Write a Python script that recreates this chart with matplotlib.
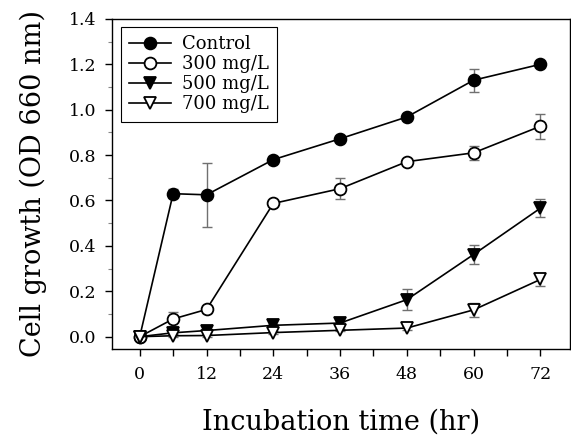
import matplotlib
matplotlib.use("Agg")
import matplotlib.pyplot as plt
from matplotlib.ticker import MultipleLocator

# incubation time (hr)
hours = [0, 6, 12, 24, 36, 48, 60, 72]

control = [0.00, 0.63, 0.625, 0.78, 0.872, 0.968, 1.13, 1.20]
control_err = [0.01, 0.02, 0.14, 0.015, 0.01, 0.01, 0.05, 0.01]

c300 = [0.00, 0.078, 0.12, 0.587, 0.652, 0.771, 0.81, 0.927]
c300_err = [0.01, 0.03, 0.015, 0.01, 0.045, 0.01, 0.03, 0.055]

c500 = [0.00, 0.017, 0.027, 0.05, 0.06, 0.163, 0.362, 0.566]
c500_err = [0.005, 0.005, 0.005, 0.005, 0.005, 0.045, 0.04, 0.04]

c700 = [0.00, 0.004, 0.005, 0.018, 0.028, 0.038, 0.118, 0.252]
c700_err = [0.005, 0.005, 0.005, 0.005, 0.005, 0.01, 0.03, 0.03]

series = [
    ("Control", control, control_err, "o", "black"),
    ("300 mg/L", c300, c300_err, "o", "white"),
    ("500 mg/L", c500, c500_err, "v", "black"),
    ("700 mg/L", c700, c700_err, "v", "white"),
]

plt.rcParams["font.family"] = ["DejaVu Serif"]

fig = plt.figure(figsize=(5.71, 4.40), dpi=100)
ax = fig.add_axes([0.196, 0.207, 0.802, 0.750])

for label, y, err, mk, face in series:
    ax.errorbar(hours, y, yerr=err, fmt="none", ecolor="#707070",
                elinewidth=1.0, capsize=3.5, capthick=1.0, zorder=2)
    ax.plot(hours, y, color="black", lw=1.2, marker=mk, markersize=8.5,
            markerfacecolor=face, markeredgecolor="black",
            markeredgewidth=1.3, label=label, zorder=3)

ax.set_xlim(-5, 77.3)
ax.set_ylim(-0.054, 1.4)
ax.xaxis.set_major_locator(MultipleLocator(12))
ax.xaxis.set_minor_locator(MultipleLocator(6))
ax.yaxis.set_major_locator(MultipleLocator(0.2))
ax.yaxis.set_minor_locator(MultipleLocator(0.1))
ax.yaxis.set_major_formatter(plt.FormatStrFormatter("%.1f"))

ax.tick_params(axis="both", which="major", direction="out", length=5,
               width=1.0, labelsize=12.5)
ax.tick_params(axis="x", which="minor", direction="out", length=5, width=1.0)
ax.tick_params(axis="y", which="minor", direction="out", length=3,
               width=0.8, color="#888888")
ax.tick_params(axis="x", pad=7)
ax.tick_params(axis="y", pad=6)

for sp in ax.spines.values():
    sp.set_linewidth(1.0)

ax.set_xlabel("Incubation time (hr)", fontsize=19.5, labelpad=19)
ax.set_ylabel("Cell growth (OD 660 nm)", fontsize=19.5, labelpad=16)

leg = ax.legend(loc="upper left", bbox_to_anchor=(0.02, 0.976),
                fontsize=13, frameon=True, fancybox=False, framealpha=1,
                edgecolor="black", handlelength=2.3, handletextpad=0.6,
                labelspacing=0.12, borderpad=0.45, borderaxespad=0)
leg.get_frame().set_linewidth(0.8)

fig.savefig("out.png", dpi=100)
